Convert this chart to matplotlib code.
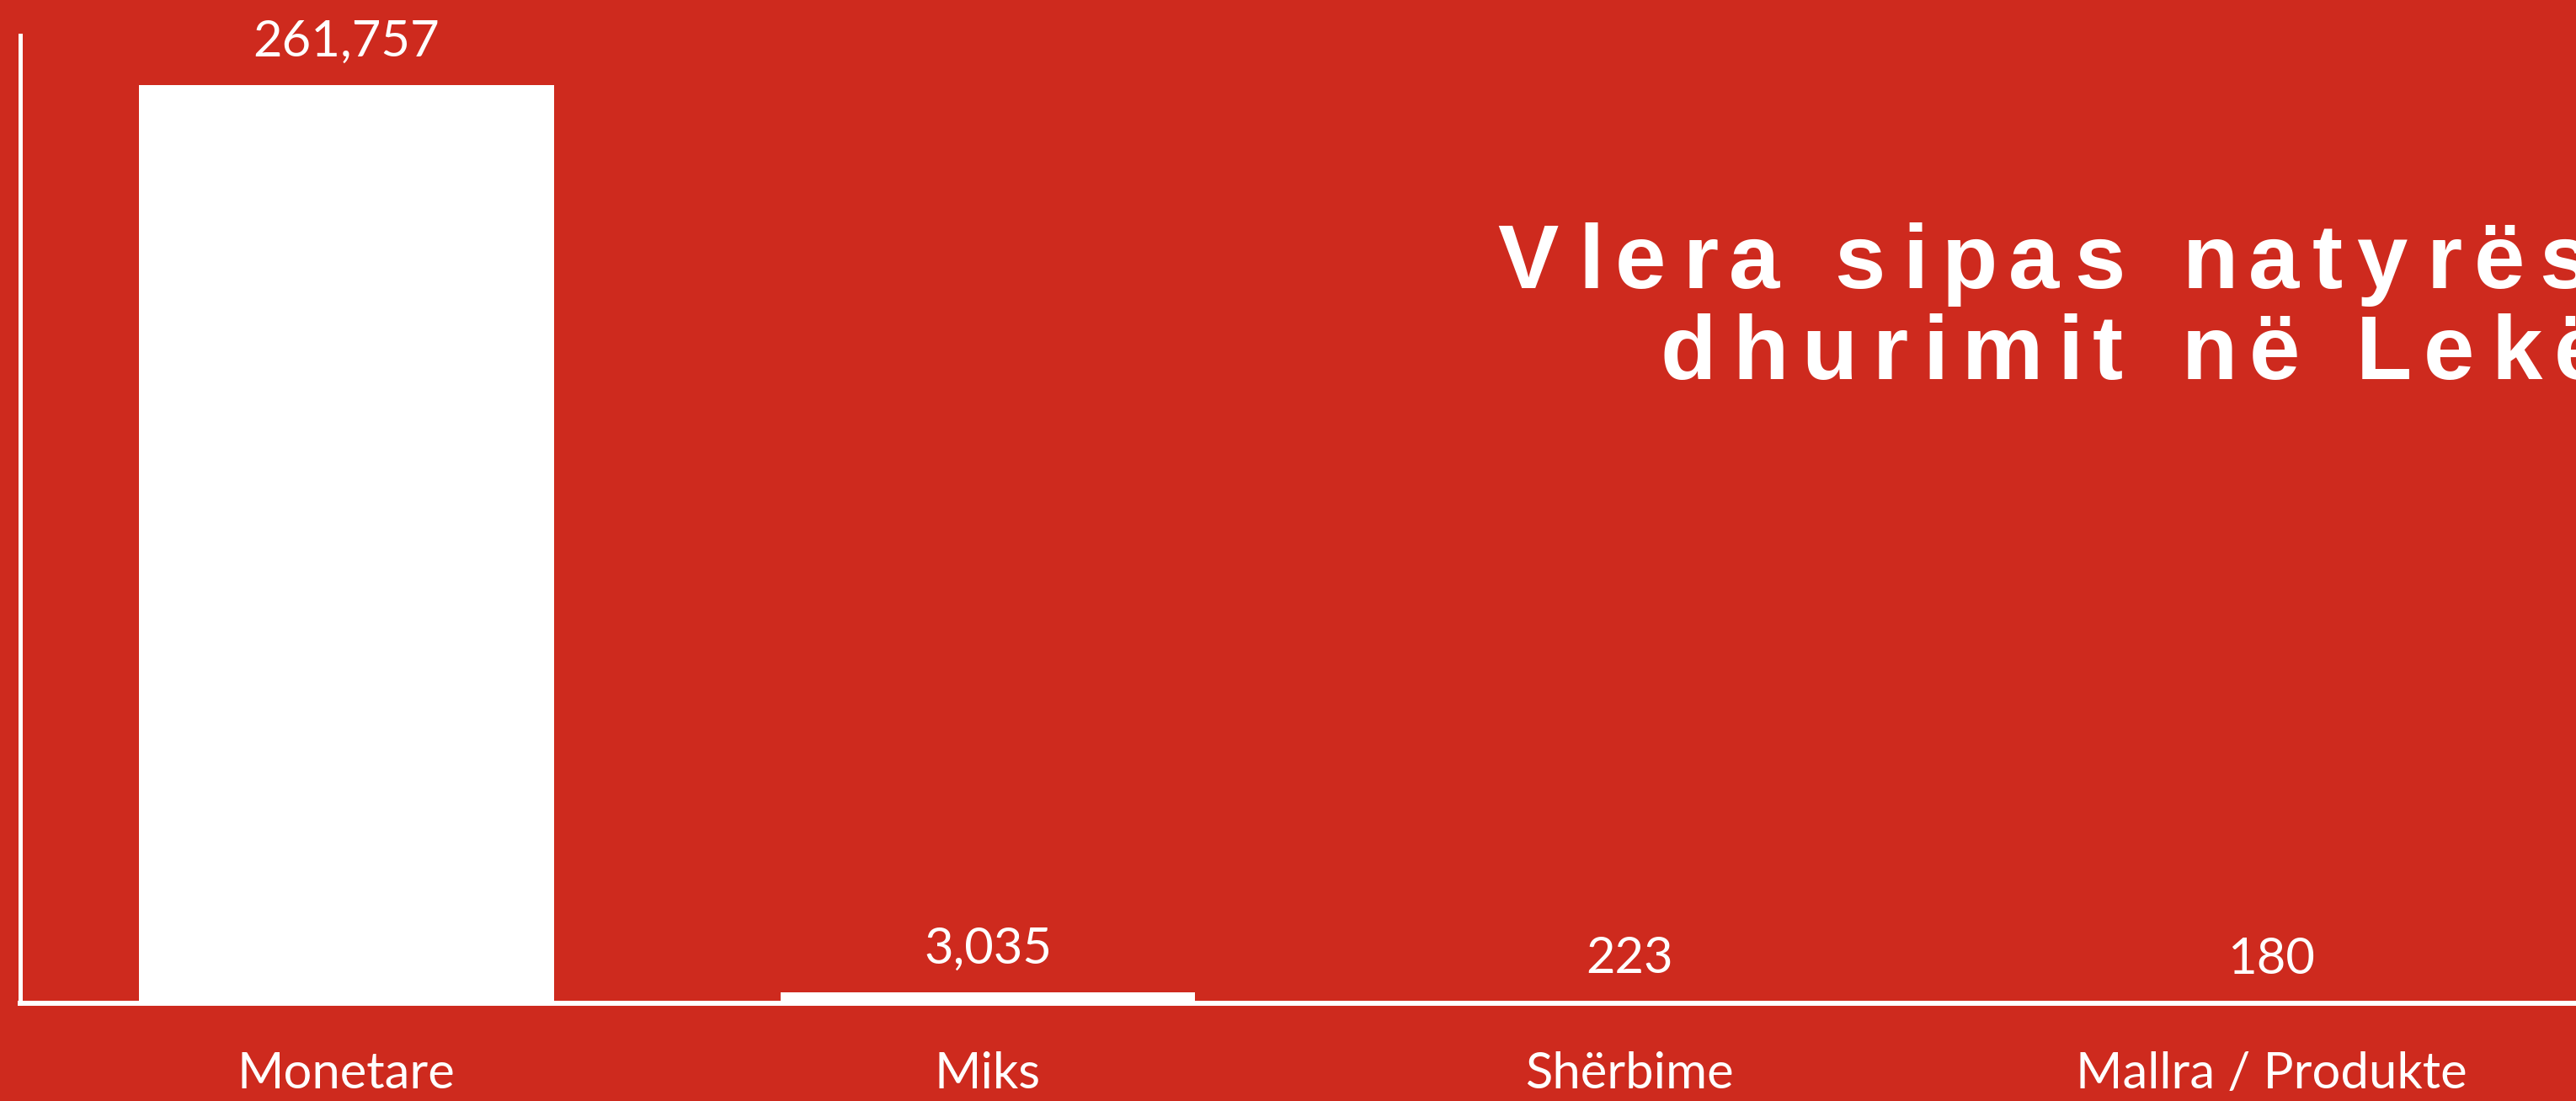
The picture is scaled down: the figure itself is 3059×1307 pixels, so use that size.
import matplotlib; matplotlib.use("Agg")
import matplotlib.pyplot as plt
from matplotlib.font_manager import FontProperties, findfont, get_font

# Data
categories = ["Monetare", "Miks", "Shërbime", "Mallra / Produkte"]
values = [261757, 3035, 223, 180]
title_lines = ["Vlera sipas natyrës së", "dhurimit në Lekë"]

BG = "#CE2A1E"
FG = "white"
W, H, DPI = 3059, 1307, 100

fig = plt.figure(figsize=(W/DPI, H/DPI), dpi=DPI, facecolor=BG)
ax = fig.add_axes([24/W, 116/H, 3063/W, 1149/H])
ax.set_facecolor(BG)

x = list(range(len(categories)))
ax.bar(x, values, width=0.647, color=FG, zorder=2)
ax.set_xlim(-0.508, 3.512)
ax.set_ylim(0, 276000)

for xi, v in zip(x, values):
    ax.annotate(f"{v:,}", (xi, v), xytext=(0, 25), textcoords="offset points",
                ha="center", va="baseline", color=FG, fontsize=43, family="Lato")

ax.set_xticks(x)
ax.set_xticklabels(categories, fontsize=43, family="Lato", color=FG)
ax.tick_params(axis="x", length=0, pad=41)
ax.set_yticks([])

for s in ["top", "right"]:
    ax.spines[s].set_visible(False)
ax.spines["bottom"].set_color(FG); ax.spines["bottom"].set_linewidth(4.3)
ax.spines["left"].set_color(FG); ax.spines["left"].set_linewidth(3.6)

# Title: letter-spaced, drawn char by char, cut off by the right edge
TSIZE, TRACK = 78, 17  # pt, px
tprop = FontProperties(family="Liberation Sans", weight="bold", size=TSIZE)
tfont = get_font(findfont(tprop))
tfont.set_size(TSIZE, DPI)

def draw_tracked(text, x_ink, y_base):
    g0 = tfont.load_char(ord(text[0]))
    pen = x_ink - g0.horiBearingX / 64
    for c in text:
        g = tfont.load_char(ord(c))
        if c != " ":
            fig.text((pen + g.horiBearingX / 64) / W, 1 - y_base / H, c,
                     ha="left", va="baseline", color=FG, fontproperties=tprop)
        pen += g.linearHoriAdvance / 65536 + TRACK

draw_tracked(title_lines[0], 1778, 342)
draw_tracked(title_lines[1], 1971, 450)

fig.savefig("out.png", dpi=DPI, facecolor=BG)
